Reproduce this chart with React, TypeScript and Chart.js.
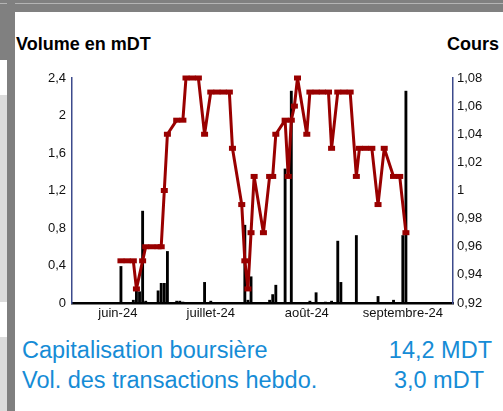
import { useEffect, useRef } from "react";
import { Chart, registerables } from "chart.js";

Chart.register(...registerables);

// Day index: 0 = 1 June 2024
const barDays = [1, 5, 6, 7, 8, 9, 13, 14, 15, 16, 19, 20, 21, 28, 30, 41, 42, 43, 49, 50, 51, 54, 56, 62, 64, 67, 69, 71, 72, 77, 84, 89, 92, 93];
const barValues = [0.39, 0.03, 0.13, 0.12, 0.98, 0.02, 0.13, 0.21, 0.21, 0.55, 0.02, 0.02, 0.01, 0.22, 0.02, 0.83, 0.03, 0.28, 0.03, 0.09, 0.19, 1.43, 2.26, 0.02, 0.11, 0.01, 0.02, 0.66, 0.22, 0.72, 0.07, 0.03, 0.72, 2.26];

const lineDays = [1, 3, 5, 6, 8, 9, 11, 13, 14, 15, 16, 19, 21, 22, 24, 26, 28, 30, 32, 34, 36, 37, 40, 41, 42, 43, 44, 47, 49, 50, 51, 54, 55, 56, 57, 58, 61, 62, 64, 66, 68, 69, 71, 73, 75, 77, 78, 80, 82, 84, 86, 89, 91, 93];
const lineValues = [0.95, 0.95, 0.95, 0.93, 0.95, 0.96, 0.96, 0.96, 0.96, 1.0, 1.04, 1.05, 1.05, 1.08, 1.08, 1.08, 1.04, 1.07, 1.07, 1.07, 1.07, 1.03, 0.99, 0.95, 0.93, 0.97, 1.01, 0.97, 1.01, 1.01, 1.04, 1.05, 1.01, 1.05, 1.06, 1.08, 1.04, 1.07, 1.07, 1.07, 1.07, 1.03, 1.07, 1.07, 1.07, 1.01, 1.03, 1.03, 1.03, 0.99, 1.03, 1.01, 1.01, 0.97];

const monthTickDays = [0, 30, 61, 92];
const monthTickLabels = ["juin-24", "juillet-24", "août-24", "septembre-24"];
const xMin = -14.8;
const xMax = 108.2;

const volumeTicks = [0, 0.4, 0.8, 1.2, 1.6, 2, 2.4];
const coursTicks = [0.92, 0.94, 0.96, 0.98, 1, 1.02, 1.04, 1.06, 1.08];

const FONT = 'Arial, "Liberation Sans", sans-serif';
const BLUE = "#168cd6";
const AXIS_BLUE = "#3c4a8c";

const fmt = (v: number) => String(v).replace(".", ",");

export default function App() {
  const ref = useRef<HTMLCanvasElement>(null);

  useEffect(() => {
    const canvas = ref.current!;
    const tickFont = { family: FONT, size: 13 };
    const chart = new Chart(canvas, {
      type: "bar",
      data: {
        datasets: [
          {
            type: "line",
            label: "Cours",
            data: lineDays.map((d, i) => ({ x: d, y: lineValues[i] })),
            yAxisID: "y1",
            borderColor: "#990000",
            borderWidth: 3,
            borderJoinStyle: "round",
            pointStyle: "line",
            pointRadius: 3.5,
            pointBorderWidth: 5,
            pointBorderColor: "#990000",
            pointBackgroundColor: "#990000",
            tension: 0,
            clip: false,
            order: 0,
          } as any,
          {
            type: "bar",
            label: "Volume",
            data: barDays.map((d, i) => ({ x: d, y: barValues[i] })),
            yAxisID: "y",
            backgroundColor: "#000000",
            barThickness: 2.2,
            order: 1,
          } as any,
        ],
      },
      options: {
        animation: false,
        responsive: false,
        maintainAspectRatio: false,
        devicePixelRatio: 1,
        events: [],
        layout: { padding: { top: 66, left: 0, right: 0, bottom: 0 } },
        plugins: { legend: { display: false }, tooltip: { enabled: false } },
        scales: {
          x: {
            type: "linear",
            min: xMin,
            max: xMax,
            offset: false,
            z: 1,
            grid: { display: false, drawTicks: false },
            border: { display: true, color: "#000000", width: 2.5 },
            ticks: {
              font: tickFont,
              color: "#111",
              padding: 3,
              autoSkip: false,
              maxRotation: 0,
              callback: (v: any) => {
                const i = monthTickDays.indexOf(Number(v));
                return i >= 0 ? monthTickLabels[i] : "";
              },
            },
            afterBuildTicks: (s: any) => {
              s.ticks = monthTickDays.map((v) => ({ value: v }));
            },
            afterFit: (s: any) => {
              s.height = 30;
            },
          } as any,
          y: {
            type: "linear",
            position: "left",
            min: 0,
            max: 2.4,
            grid: { display: false, drawTicks: false },
            border: { display: true, color: AXIS_BLUE, width: 1.5 },
            ticks: { font: tickFont, color: "#111", padding: 6, callback: (v: any) => fmt(Number(v)) },
            afterBuildTicks: (s: any) => {
              s.ticks = volumeTicks.map((v) => ({ value: v }));
            },
            afterFit: (s: any) => {
              s.width = 57;
            },
          } as any,
          y1: {
            type: "linear",
            position: "right",
            min: 0.92,
            max: 1.08,
            grid: { display: false, drawTicks: false },
            border: { display: true, color: AXIS_BLUE, width: 1.5 },
            ticks: { font: tickFont, color: "#111", padding: 4, callback: (v: any) => fmt(Number(v)) },
            afterBuildTicks: (s: any) => {
              s.ticks = coursTicks.map((v) => ({ value: v }));
            },
            afterFit: (s: any) => {
              s.width = 50;
            },
          } as any,
        },
      },
    });
    return () => chart.destroy();
  }, []);

  const abs = (o: any) => ({ position: "absolute" as const, ...o });

  return (
    <div style={{ position: "fixed", left: 0, top: 0, width: 503, height: 411, background: "#ffffff", overflow: "hidden", fontFamily: FONT }}>
      {/* frame */}
      <div style={abs({ left: 0, top: 0, width: 503, height: 12, background: "#808080" })} />
      <div style={abs({ left: 0, top: 3, width: 503, height: 1, background: "#b4b4b4" })} />
      <div style={abs({ left: 0, top: 12, width: 7, height: 48, background: "#808080" })} />
      <div style={abs({ left: 0, top: 95, width: 7, height: 207, background: "#dcdcdc" })} />
      <div style={abs({ left: 0, top: 337, width: 7, height: 74, background: "#dcdcdc" })} />
      <div style={abs({ left: 7, top: 0, width: 8, height: 411, background: "#808080" })} />

      {/* axis titles */}
      <div style={abs({ left: 16, top: 35, fontSize: 18, lineHeight: "18px", fontWeight: "bold", color: "#000", whiteSpace: "nowrap" })}>Volume en mDT</div>
      <div style={abs({ left: 447, top: 35, fontSize: 18, lineHeight: "18px", fontWeight: "bold", color: "#000", whiteSpace: "nowrap" })}>Cours</div>

      <canvas ref={ref} width={488} height={321} style={abs({ left: 15, top: 12, width: 488, height: 321, display: "block" })} />

      {/* footer */}
      <div style={abs({ left: 22, top: 339, fontSize: 23.5, lineHeight: "23.5px", color: BLUE, whiteSpace: "nowrap" })}>Capitalisation boursière</div>
      <div style={abs({ right: 503 - 492, top: 339, fontSize: 23.5, lineHeight: "23.5px", color: BLUE, whiteSpace: "nowrap", textAlign: "right" })}>14,2 MDT</div>
      <div style={abs({ left: 22, top: 369, fontSize: 23.5, lineHeight: "23.5px", color: BLUE, whiteSpace: "nowrap" })}>Vol. des transactions hebdo.</div>
      <div style={abs({ right: 503 - 484, top: 369, fontSize: 23.5, lineHeight: "23.5px", color: BLUE, whiteSpace: "nowrap", textAlign: "right" })}>3,0 mDT</div>
    </div>
  );
}
